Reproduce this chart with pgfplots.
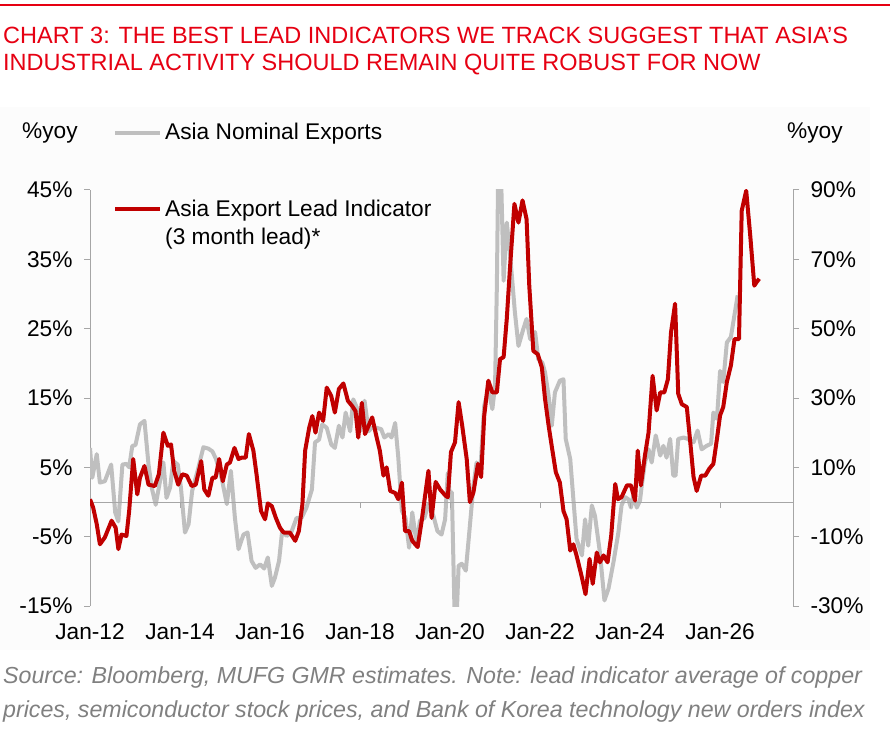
\documentclass[border=0pt]{standalone}
\usepackage{fontspec}
\setmainfont{Liberation Sans}
\usepackage{pgfplots}
\usepackage{pgfplotstable}
\pgfplotsset{compat=1.18}
\definecolor{mred}{HTML}{C00000}
\definecolor{tred}{HTML}{E60012}
\definecolor{mgray}{HTML}{BFBFBF}
\definecolor{agray}{HTML}{A6A6A6}
\definecolor{sgray}{HTML}{808080}
\pgfplotstableread{
t v
2012.00 7.8
2012.05 3.5
2012.15 6.9
2012.22 2.8
2012.33 3.0
2012.47 5.4
2012.56 -1.5
2012.63 -2.8
2012.72 5.4
2012.81 5.5
2012.87 5.0
2012.94 8.1
2013.01 8.2
2013.11 11.2
2013.21 11.7
2013.30 5.4
2013.37 2.1
2013.46 -0.4
2013.53 2.1
2013.63 5.7
2013.70 0.6
2013.78 2.1
2013.85 5.9
2013.95 5.4
2014.02 2.1
2014.11 -4.4
2014.19 -3.2
2014.27 1.6
2014.39 4.5
2014.52 7.9
2014.63 7.7
2014.72 7.3
2014.80 6.2
2014.93 3.3
2015.04 -0.3
2015.13 4.5
2015.22 -2.3
2015.30 -6.8
2015.41 -4.7
2015.50 -4.4
2015.59 -8.5
2015.68 -9.5
2015.78 -9.0
2015.87 -9.6
2015.95 -8.0
2016.04 -12.1
2016.11 -10.9
2016.20 -8.5
2016.27 -4.2
2016.37 -4.9
2016.47 -4.4
2016.59 -2.3
2016.70 -2.3
2016.81 -0.8
2016.93 1.8
2017.00 8.6
2017.09 9.0
2017.16 11.2
2017.26 10.7
2017.36 8.3
2017.44 7.8
2017.53 11.0
2017.61 9.3
2017.68 12.9
2017.78 10.2
2017.85 14.8
2017.93 13.6
2018.00 10.2
2018.10 14.6
2018.19 10.2
2018.26 10.7
2018.37 10.7
2018.47 10.5
2018.54 9.3
2018.64 9.8
2018.70 9.3
2018.78 11.4
2018.85 6.4
2018.93 -1.3
2019.01 -2.3
2019.09 -6.6
2019.16 -1.5
2019.26 -6.1
2019.33 -2.7
2019.43 -2.3
2019.52 -0.3
2019.63 -2.0
2019.72 -4.2
2019.81 -4.7
2019.89 -2.5
2019.95 4.2
2020.00 0.5
2020.04 1.4
2020.10 -16.0
2020.15 -16.0
2020.19 -9.2
2020.26 -8.9
2020.35 -9.9
2020.42 -4.9
2020.52 2.4
2020.59 5.7
2020.67 4.3
2020.76 13.9
2020.85 16.3
2020.94 13.4
2021.00 16.8
2021.04 31.2
2021.07 48.0
2021.13 48.0
2021.19 31.9
2021.26 40.3
2021.33 36.0
2021.44 27.4
2021.52 22.5
2021.63 25.0
2021.70 26.4
2021.78 23.5
2021.89 24.5
2021.96 20.6
2022.05 20.1
2022.11 18.7
2022.19 15.3
2022.26 11.0
2022.33 15.8
2022.44 17.5
2022.52 17.7
2022.57 9.1
2022.67 6.2
2022.74 0.4
2022.81 -5.3
2022.93 -7.7
2023.00 -2.5
2023.07 -6.3
2023.15 -0.5
2023.22 -2.0
2023.33 -7.3
2023.43 -14.2
2023.52 -12.5
2023.63 -8.7
2023.74 -4.4
2023.81 -0.5
2023.89 0.7
2023.96 0.4
2024.02 -0.8
2024.07 0.9
2024.15 -0.8
2024.22 0.2
2024.26 2.4
2024.33 5.7
2024.41 7.6
2024.48 5.7
2024.57 9.6
2024.67 6.7
2024.74 8.1
2024.81 6.4
2024.89 9.1
2024.96 3.8
2025.01 3.8
2025.07 9.1
2025.19 9.3
2025.28 9.1
2025.41 8.6
2025.50 10.3
2025.59 7.6
2025.70 8.1
2025.80 8.4
2025.85 12.9
2025.93 12.0
2026.00 18.9
2026.07 17.3
2026.15 23.0
2026.24 23.8
2026.33 27.4
2026.39 29.8
}\grayexports
\pgfplotstableread{
t v
2012.00 0.8
2012.07 -1.6
2012.15 -6.4
2012.22 -12.2
2012.33 -10.2
2012.48 -5.4
2012.57 -7.4
2012.63 -13.6
2012.70 -9.4
2012.81 -9.8
2012.87 -2.6
2012.96 12.4
2013.05 2.2
2013.11 7.0
2013.21 10.4
2013.30 5.0
2013.44 4.6
2013.53 8.0
2013.63 20.0
2013.73 16.2
2013.80 16.6
2013.87 9.0
2013.96 5.0
2014.05 8.0
2014.15 7.6
2014.26 4.6
2014.35 5.0
2014.47 11.8
2014.54 3.6
2014.63 1.8
2014.72 7.0
2014.79 7.0
2014.87 12.4
2014.95 6.0
2015.04 10.8
2015.11 11.4
2015.21 15.6
2015.30 12.4
2015.37 12.8
2015.46 12.8
2015.53 19.6
2015.63 14.8
2015.70 8.0
2015.80 -2.6
2015.89 -5.0
2015.95 -0.4
2016.04 -1.2
2016.13 -4.6
2016.22 -7.4
2016.30 -8.8
2016.44 -8.8
2016.56 -11.2
2016.64 -8.4
2016.72 -0.6
2016.78 14.8
2016.87 21.4
2016.94 24.8
2017.01 20.0
2017.09 25.8
2017.18 23.4
2017.26 33.0
2017.36 30.6
2017.44 25.8
2017.53 32.6
2017.63 34.2
2017.73 29.2
2017.83 27.6
2017.90 26.2
2017.96 18.6
2018.04 28.6
2018.11 19.6
2018.19 22.0
2018.27 24.4
2018.37 18.6
2018.44 14.8
2018.52 7.6
2018.59 10.0
2018.67 3.2
2018.78 2.6
2018.85 0.8
2018.93 5.6
2019.00 -8.4
2019.09 -8.4
2019.16 -11.2
2019.28 -13.0
2019.37 -5.4
2019.52 9.0
2019.59 -4.6
2019.68 5.8
2019.78 3.6
2019.90 1.8
2019.95 1.4
2020.02 14.4
2020.11 17.2
2020.19 28.8
2020.27 22.0
2020.37 12.4
2020.44 0.0
2020.52 2.8
2020.62 11.0
2020.69 7.2
2020.76 25.0
2020.85 35.0
2020.94 31.6
2021.04 31.6
2021.11 41.2
2021.19 41.8
2021.26 52.8
2021.33 67.2
2021.43 86.0
2021.52 80.6
2021.61 87.0
2021.70 81.6
2021.76 62.4
2021.85 43.6
2021.95 42.6
2022.04 38.8
2022.11 29.8
2022.19 22.0
2022.27 15.2
2022.35 8.6
2022.44 5.6
2022.52 -2.6
2022.59 -5.0
2022.67 -14.0
2022.74 -12.2
2022.81 -15.4
2022.93 -21.8
2023.01 -26.6
2023.10 -16.4
2023.17 -23.6
2023.26 -14.6
2023.33 -17.4
2023.41 -15.4
2023.50 -17.4
2023.58 -9.8
2023.67 5.2
2023.73 0.8
2023.81 1.4
2023.93 4.8
2024.02 4.8
2024.11 0.4
2024.17 14.8
2024.24 4.8
2024.33 13.4
2024.41 20.0
2024.50 36.4
2024.59 26.4
2024.67 31.6
2024.76 31.6
2024.84 35.4
2024.91 49.0
2025.00 57.2
2025.07 31.2
2025.15 28.2
2025.26 27.4
2025.33 18.2
2025.41 7.2
2025.48 3.2
2025.58 7.6
2025.67 7.6
2025.76 9.6
2025.85 11.0
2025.93 18.2
2026.00 25.0
2026.07 27.4
2026.15 34.6
2026.24 39.4
2026.32 47.0
2026.42 47.0
2026.48 84.0
2026.58 89.8
2026.67 76.8
2026.76 62.4
2026.81 63.4
2026.87 64.4
}\leadind
\newcommand{\bodyfont}{\fontsize{22.7}{26}\selectfont}
\newcommand{\titlefont}{\fontsize{23.5}{27}\selectfont}
\newcommand{\srcfont}{\fontsize{23.2}{27}\selectfont\itshape}
\begin{document}
\begin{tikzpicture}
\useasboundingbox (0pt,0pt) rectangle (890pt,734pt);
\fill[black!1] (0pt,84pt) rectangle (870pt,627pt);
\draw[tred, line width=1.5pt] (0pt,729pt) -- (890pt,729pt);
\node[anchor=base west, inner sep=0pt, text=tred, font=\titlefont] at (3pt,690pt) {CHART 3: THE BEST LEAD INDICATORS WE TRACK SUGGEST THAT ASIA’S};
\node[anchor=base west, inner sep=0pt, text=tred, font=\titlefont] at (3pt,663pt) {INDUSTRIAL ACTIVITY SHOULD REMAIN QUITE ROBUST FOR NOW};
\node[anchor=base west, inner sep=0pt, font=\bodyfont] at (22pt,595pt) {\%yoy};
\node[anchor=base west, inner sep=0pt, font=\bodyfont] at (787pt,595pt) {\%yoy};
\draw[mgray, line width=4pt] (115pt,601pt) -- (160pt,601pt);
\node[anchor=base west, inner sep=0pt, font=\bodyfont] at (165pt,594pt) {Asia Nominal Exports};
\draw[mred, line width=4pt] (115pt,525pt) -- (160pt,525pt);
\node[anchor=base west, inner sep=0pt, font=\bodyfont] at (165pt,517pt) {Asia Export Lead Indicator};
\node[anchor=base west, inner sep=0pt, font=\bodyfont] at (165pt,489pt) {(3 month lead)*};
\node[anchor=base west, inner sep=0pt, text=sgray, font=\srcfont] at (3pt,51pt) {Source: Bloomberg, MUFG GMR estimates. Note: lead indicator average of copper};
\node[anchor=base west, inner sep=0pt, text=sgray, font=\srcfont] at (3pt,17pt) {prices, semiconductor stock prices, and Bank of Korea technology new orders index};
\begin{axis}[
  at={(90pt,128pt)}, anchor=south west, scale only axis,
  width=703pt, height=416pt,
  xmin=2012, xmax=2027.62, ymin=-15, ymax=45,
  axis y line*=left, axis x line*=bottom,
  x axis line style={draw=none},
  y axis line style={draw=agray, line width=1pt},
  xtick={2012,2014,2016,2018,2020,2022,2024,2026},
  xticklabels={Jan-12,Jan-14,Jan-16,Jan-18,Jan-20,Jan-22,Jan-24,Jan-26},
  major x tick style={draw=none},
  ytick={-15,-5,5,15,25,35,45},
  yticklabels={-15\%,-5\%,5\%,15\%,25\%,35\%,45\%},
  tick align=outside, major tick length=6pt,
  major y tick style={draw=agray, line width=1pt},
  ticklabel style={font=\bodyfont, text=black},
  yticklabel style={xshift=-8pt},
  xticklabel style={yshift=-8pt},
  clip=true,
]
\addplot[mgray, line width=4pt, line join=round, no marks] table[x=t,y=v] {\grayexports};
\end{axis}
\begin{axis}[
  at={(90pt,128pt)}, anchor=south west, scale only axis,
  width=703pt, height=416pt,
  xmin=2012, xmax=2027.62, ymin=-15, ymax=45,
  axis x line=middle, axis y line=none,
  x axis line style={draw=agray, line width=1pt, -},
  xtick={2014,2016,2018,2020,2022,2024,2026},
  xticklabels={},
  tick align=outside, major tick length=6pt,
  major x tick style={draw=agray, line width=1pt},
]
\end{axis}
\begin{axis}[
  at={(90pt,128pt)}, anchor=south west, scale only axis,
  width=703pt, height=416pt,
  xmin=2012, xmax=2027.62, ymin=-30, ymax=90,
  axis y line*=right, axis x line=none,
  y axis line style={draw=agray, line width=1pt},
  ytick={-30,-10,10,30,50,70,90},
  yticklabels={-30\%,-10\%,10\%,30\%,50\%,70\%,90\%},
  tick align=outside, major tick length=6pt,
  major y tick style={draw=agray, line width=1pt},
  ticklabel style={font=\bodyfont, text=black},
  yticklabel style={xshift=8pt},
]
\addplot[mred, line width=4pt, line join=round, no marks] table[x=t,y=v] {\leadind};
\end{axis}
\end{tikzpicture}
\end{document}
